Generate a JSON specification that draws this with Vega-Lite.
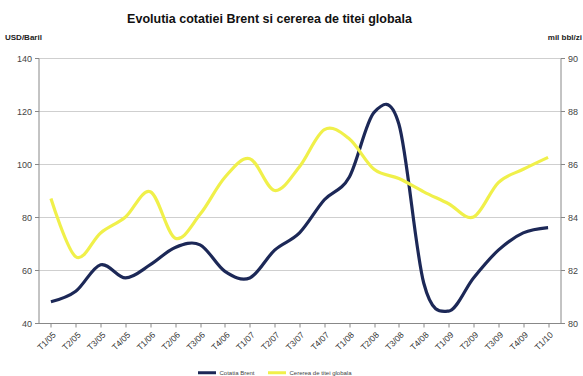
{
  "$schema": "https://vega.github.io/schema/vega-lite/v6.json",
  "autosize": {"type": "none"},
  "width": 522,
  "height": 265,
  "padding": {"left": 38.5, "top": 58, "right": 22.5, "bottom": 53},
  "background": "white",
  "config": {
    "font": "Liberation Sans",
    "view": {"stroke": null},
    "axis": {"labelFont": "Liberation Sans", "titleFont": "Liberation Sans"}
  },
  "title": {
    "text": "Evolutia cotatiei Brent si cererea de titei globala",
    "fontSize": 12.5,
    "fontWeight": "bold",
    "font": "Liberation Sans",
    "color": "#111111",
    "anchor": "middle",
    "dx": -30,
    "offset": 8
  },
  "data": {
    "values": [
      {"q": "T1/05", "brent": 48, "cerere": 84.7},
      {"q": "T2/05", "brent": 52, "cerere": 82.5},
      {"q": "T3/05", "brent": 62, "cerere": 83.4},
      {"q": "T4/05", "brent": 57, "cerere": 84.0},
      {"q": "T1/06", "brent": 62, "cerere": 84.95},
      {"q": "T2/06", "brent": 68.5, "cerere": 83.2},
      {"q": "T3/06", "brent": 69.5, "cerere": 84.1},
      {"q": "T4/06", "brent": 59.5, "cerere": 85.5},
      {"q": "T1/07", "brent": 57, "cerere": 86.2},
      {"q": "T2/07", "brent": 67.5, "cerere": 85.0},
      {"q": "T3/07", "brent": 74, "cerere": 85.9},
      {"q": "T4/07", "brent": 86.5, "cerere": 87.3},
      {"q": "T1/08", "brent": 95, "cerere": 86.95},
      {"q": "T2/08", "brent": 119.5, "cerere": 85.8},
      {"q": "T3/08", "brent": 115, "cerere": 85.45},
      {"q": "T4/08", "brent": 55, "cerere": 84.95},
      {"q": "T1/09", "brent": 44.5, "cerere": 84.5},
      {"q": "T2/09", "brent": 57, "cerere": 84.0},
      {"q": "T3/09", "brent": 67.5, "cerere": 85.3},
      {"q": "T4/09", "brent": 74, "cerere": 85.8},
      {"q": "T1/10", "brent": 76, "cerere": 86.25}
    ]
  },
  "encoding": {
    "x": {
      "field": "q",
      "type": "ordinal",
      "sort": null,
      "scale": {"paddingInner": 0, "paddingOuter": 0},
      "axis": {
        "title": null,
        "labelAngle": -45,
        "labelFontSize": 8.5,
        "labelColor": "#333333",
        "labelPadding": 3,
        "bandPosition": 0,
        "domainColor": "#888888",
        "tickColor": "#888888",
        "tickSize": 4,
        "grid": false
      }
    }
  },
  "layer": [
    {
      "mark": {"type": "line", "interpolate": "cardinal", "tension": 0, "strokeWidth": 3.2},
      "encoding": {
        "y": {
          "field": "brent",
          "type": "quantitative",
          "scale": {"domain": [40, 140], "nice": false, "zero": false},
          "axis": {
            "values": [40, 60, 80, 100, 120, 140],
            "title": "USD/Baril",
            "titleAngle": 0,
            "titleFontSize": 8,
            "titleFontWeight": "bold",
            "titleColor": "#222222",
            "titleAlign": "left",
            "titleBaseline": "bottom",
            "titleX": -34,
            "titleY": -17,
            "labelFontSize": 9,
            "labelColor": "#444444",
            "labelPadding": 3,
            "domainColor": "#888888",
            "tickColor": "#888888",
            "tickSize": 4,
            "grid": true,
            "gridColor": "#cfcfcf",
            "gridWidth": 1
          }
        },
        "color": {
          "datum": "Cotatia Brent",
          "type": "nominal",
          "scale": {"domain": ["Cotatia Brent", "Cererea de titei globala"], "range": ["#1c2857", "#f0f04a"]},
          "legend": {
            "title": null,
            "orient": "none",
            "legendX": 158,
            "legendY": 304,
            "direction": "horizontal",
            "symbolType": "stroke",
            "symbolStrokeWidth": 3,
            "symbolSize": 324,
            "labelFontSize": 6,
            "labelColor": "#444444",
            "columnPadding": 6,
            "labelOffset": 2
          }
        }
      }
    },
    {
      "mark": {"type": "line", "interpolate": "cardinal", "tension": 0, "strokeWidth": 3.2},
      "encoding": {
        "y": {
          "field": "cerere",
          "type": "quantitative",
          "scale": {"domain": [80, 90], "nice": false, "zero": false},
          "axis": {
            "orient": "right",
            "values": [80, 82, 84, 86, 88, 90],
            "title": "mil bbl/zi",
            "titleAngle": 0,
            "titleFontSize": 8,
            "titleFontWeight": "bold",
            "titleColor": "#222222",
            "titleAlign": "right",
            "titleBaseline": "bottom",
            "titleX": 21,
            "titleY": -17,
            "labelFontSize": 9,
            "labelColor": "#444444",
            "labelPadding": 3,
            "domainColor": "#888888",
            "tickColor": "#888888",
            "tickSize": 4,
            "grid": false
          }
        },
        "color": {"datum": "Cererea de titei globala", "type": "nominal"}
      }
    }
  ],
  "resolve": {"scale": {"y": "independent"}}
}
